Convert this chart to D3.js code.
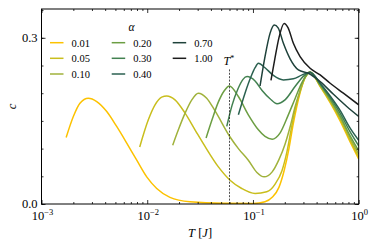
<!DOCTYPE html>
<html>
<head>
<meta charset="utf-8">
<script src="https://cdn.jsdelivr.net/npm/d3@7"></script>
<style>
  body { margin: 0; background: #fff; }
  svg { display: block; }
  text { font-family: "Liberation Serif", "DejaVu Serif", serif; fill: #000; }
</style>
</head>
<body>
<div id="chart"></div>
<script>
(function(){
  // data: [T, c] pairs per alpha
  var alphas = ["0.01", "0.05", "0.10", "0.20", "0.30", "0.40", "0.70", "1.00"];
  var colors = ["#fcc200", "#c9be1d", "#a0b23b", "#6c9e43", "#428150", "#2b6150", "#1f423b", "#1c1c1c"];

  var a001 = [[0.00171,0.120],[0.00200,0.158],[0.00231,0.182],[0.00277,0.191],[0.00333,0.185],
              [0.00414,0.167],[0.00514,0.140],[0.00640,0.110],[0.00796,0.079],[0.00989,0.049],
              [0.0123,0.028],[0.0164,0.012],[0.0254,0.004],[0.0525,0.0012],[0.100,0.001],
              [0.130,0.004],[0.152,0.012],[0.176,0.030],[0.197,0.060],[0.219,0.100],
              [0.238,0.140],[0.259,0.175],[0.281,0.203],[0.311,0.228],[0.347,0.238],
              [0.432,0.212],[0.537,0.183],[0.667,0.150],[0.830,0.112],[1.0,0.081]];
  var a005 = [[0.00849,0.103],[0.01024,0.152],[0.01185,0.179],[0.0137,0.193],[0.0153,0.195],
              [0.0183,0.188],[0.0228,0.164],[0.0283,0.134],[0.0352,0.104],[0.0471,0.067],
              [0.0607,0.043],[0.0783,0.028],[0.1047,0.019],[0.135,0.022],[0.162,0.036],
              [0.188,0.060],[0.210,0.095],[0.230,0.135],[0.250,0.170],[0.279,0.203],
              [0.311,0.228],[0.347,0.238],
              [0.432,0.213],[0.537,0.185],[0.667,0.153],[0.830,0.115],[1.0,0.085]];
  var a010 = [[0.0174,0.106],[0.0197,0.134],[0.0228,0.164],[0.0264,0.188],[0.0304,0.200],
              [0.0365,0.191],[0.0438,0.168],[0.0607,0.121],[0.0728,0.100],[0.0904,0.079],
              [0.109,0.057],[0.1275,0.049],[0.152,0.058],[0.176,0.080],[0.201,0.108],
              [0.225,0.140],[0.250,0.175],[0.279,0.205],[0.311,0.229],[0.347,0.238],
              [0.432,0.214],[0.537,0.187],[0.667,0.156],[0.830,0.119],[1.0,0.090]];
  var a020 = [[0.036,0.119],[0.041,0.152],[0.0468,0.183],[0.0533,0.204],[0.0598,0.213],
              [0.0728,0.194],[0.0904,0.161],[0.1125,0.134],[0.130,0.122],[0.152,0.117],
              [0.180,0.128],[0.215,0.160],[0.250,0.190],[0.292,0.220],[0.347,0.238],
              [0.432,0.215],[0.537,0.189],[0.667,0.159],[0.830,0.123],[1.0,0.096]];
  var a030 = [[0.0565,0.140],[0.0634,0.178],[0.0722,0.208],[0.0805,0.225],[0.0879,0.230],
              [0.1047,0.222],[0.122,0.205],[0.145,0.190],[0.169,0.181],[0.201,0.188],
              [0.250,0.212],[0.298,0.230],[0.347,0.238],
              [0.432,0.217],[0.537,0.192],[0.667,0.164],[0.830,0.130],[1.0,0.105]];
  var a040 = [[0.0728,0.161],[0.0841,0.200],[0.0959,0.230],[0.1047,0.246],[0.1125,0.254],
              [0.130,0.246],[0.156,0.232],[0.194,0.224],[0.241,0.226],[0.292,0.233],
              [0.347,0.238],
              [0.432,0.218],[0.537,0.195],[0.667,0.169],[0.830,0.137],[1.0,0.115]];
  var a070 = [[0.1167,0.213],[0.130,0.266],[0.145,0.308],[0.159,0.323],[0.173,0.318],
              [0.194,0.290],[0.2245,0.262],[0.269,0.242],[0.334,0.236],[0.432,0.221],
              [0.577,0.198],[0.771,0.176],[1.0,0.158]];
  var a100 = [[0.148,0.223],[0.161,0.262],[0.176,0.300],[0.197,0.326],[0.215,0.318],
              [0.241,0.290],[0.279,0.266],[0.347,0.245],[0.432,0.233],[0.537,0.218],
              [0.716,0.200],[1.0,0.179]];
  var series = [a001, a005, a010, a020, a030, a040, a070, a100];

  var tStar = 0.06;
  var xDecades = [-3, -2, -1, 0];
  var yMajor = [0.0, 0.3];
  var yLabels = ["0.0", "0.3"];

  var W = 374, H = 246;
  var margin = {top: 9, right: 15.3, bottom: 42, left: 41.5},
      width  = W - margin.left - margin.right,
      height = H - margin.top - margin.bottom;

  var svg = d3.select("#chart").append("svg")
      .attr("width", W).attr("height", H);
  var g = svg.append("g")
      .attr("transform", "translate(" + margin.left + "," + margin.top + ")");

  var x = d3.scaleLog().domain([1e-3, 1]).range([0, width]);
  var y = d3.scaleLinear().domain([0, 0.352]).range([height, 0]);

  // clip
  svg.append("defs").append("clipPath").attr("id", "clip")
    .append("rect").attr("width", width).attr("height", height);

  // curves
  var line = d3.line()
      .x(function(d){ return x(d[0]); })
      .y(function(d){ return y(d[1]); })
      .curve(d3.curveMonotoneX);

  g.append("g").attr("clip-path", "url(#clip)")
    .selectAll("path").data(series).enter().append("path")
      .attr("d", line)
      .attr("fill", "none")
      .attr("stroke", function(d, i){ return colors[i]; })
      .attr("stroke-width", 1.5)
      .attr("stroke-linejoin", "round");

  // T* marker
  g.append("line")
    .attr("x1", x(tStar)).attr("x2", x(tStar))
    .attr("y1", y(0)).attr("y2", 60)
    .attr("stroke", "#222").attr("stroke-width", 0.8)
    .attr("stroke-dasharray", "2,1.4");
  var ts = g.append("text").attr("x", x(tStar) - 6).attr("y", 56)
    .style("font-size", "12px");
  ts.append("tspan").style("font-style", "italic").text("T");
  ts.append("tspan").attr("dy", -4).style("font-size", "8px").text("*");

  // ticks
  var minorX = [];
  xDecades.forEach(function(e){
    if (e < 0) for (var k = 2; k < 10; k++) minorX.push(k * Math.pow(10, e));
  });
  var majorX = xDecades.map(function(e){ return Math.pow(10, e); });
  var minorY = d3.range(0, 0.351, 0.05);

  function tickAxis(axis, vals, size, tr){
    var a = g.append("g").attr("transform", tr || null)
      .call(axis.tickValues(vals).tickSize(size).tickFormat(""));
    a.select(".domain").remove();
    a.selectAll("line").attr("stroke", "#000").attr("stroke-width", 0.8);
  }
  tickAxis(d3.axisBottom(x), majorX, -4, "translate(0," + height + ")");
  tickAxis(d3.axisBottom(x), minorX, -2, "translate(0," + height + ")");
  tickAxis(d3.axisTop(x), majorX, -4);
  tickAxis(d3.axisTop(x), minorX, -2);
  tickAxis(d3.axisLeft(y), yMajor, -4);
  tickAxis(d3.axisLeft(y), minorY, -2);
  tickAxis(d3.axisRight(y), yMajor, -4, "translate(" + width + ",0)");
  tickAxis(d3.axisRight(y), minorY, -2, "translate(" + width + ",0)");

  // frame
  g.append("rect").attr("width", width).attr("height", height)
    .attr("fill", "none").attr("stroke", "#000").attr("stroke-width", 1);

  // tick labels
  xDecades.forEach(function(e){
    var t = g.append("text").attr("x", x(Math.pow(10, e)) + 1).attr("y", height + 16)
      .attr("text-anchor", "middle").style("font-size", "12.5px");
    t.append("tspan").text("10");
    t.append("tspan").attr("dy", -5).style("font-size", "8.5px")
      .text(e < 0 ? "\u2212" + (-e) : String(e));
  });
  yMajor.forEach(function(v, i){
    g.append("text").attr("x", -4).attr("y", y(v) + 3.8)
      .attr("text-anchor", "end").style("font-size", "12.5px").text(yLabels[i]);
  });

  // axis titles
  var xl = g.append("text").attr("x", width / 2).attr("y", height + 33)
    .attr("text-anchor", "middle").style("font-size", "12.5px");
  xl.append("tspan").style("font-style", "italic").text("T");
  xl.append("tspan").text(" [");
  xl.append("tspan").style("font-style", "italic").text("J");
  xl.append("tspan").text("]");

  svg.append("text")
    .attr("transform", "translate(16," + (margin.top + height / 2) + ") rotate(-90)")
    .attr("text-anchor", "middle")
    .style("font-size", "12.5px").style("font-style", "italic").text("c");

  // legend
  var leg = svg.append("g");
  leg.append("text").attr("x", 131.5).attr("y", 30.5).attr("text-anchor", "middle")
    .style("font-size", "11.5px").style("font-style", "italic").text("\u03b1");
  var colX = [50, 111.7, 172.7], rowY = [42.7, 58.3, 74];
  alphas.forEach(function(a, i){
    var cx = colX[Math.floor(i / 3)], cy = rowY[i % 3];
    leg.append("line").attr("x1", cx).attr("x2", cx + 13.5)
      .attr("y1", cy).attr("y2", cy)
      .attr("stroke", colors[i]).attr("stroke-width", 1.5);
    leg.append("text").attr("x", cx + 21.5).attr("y", cy + 3.8)
      .style("font-size", "10.5px").text(a);
  });
})();
</script>
</body>
</html>
